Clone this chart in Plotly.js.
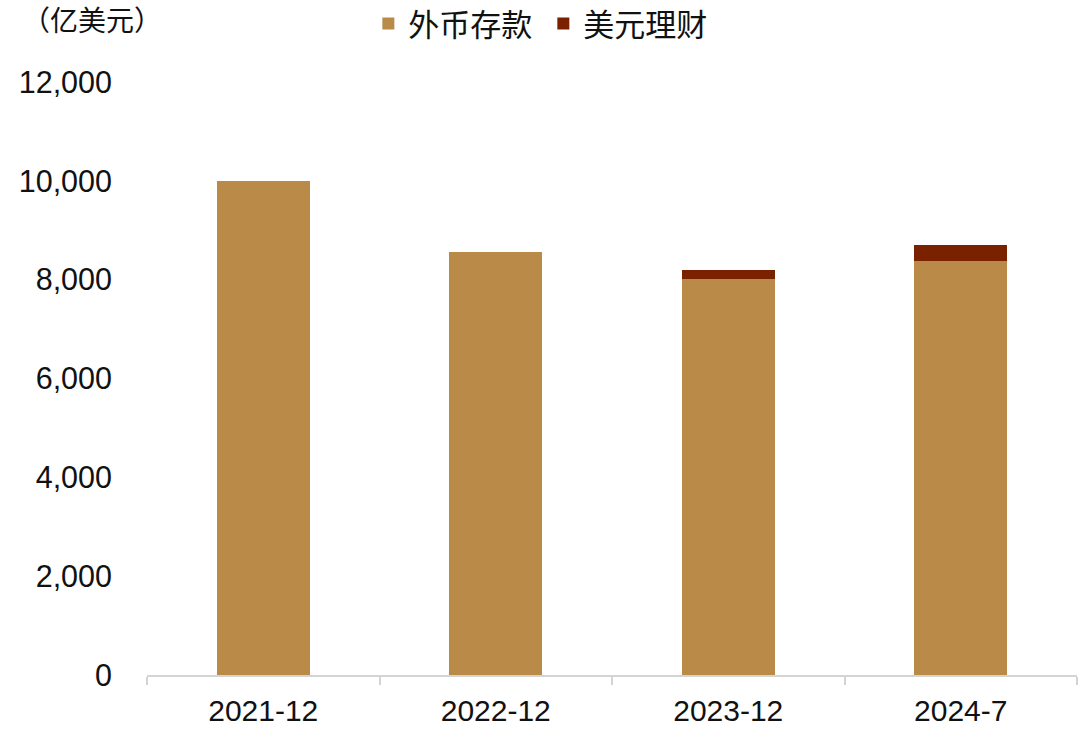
<!DOCTYPE html>
<html>
<head>
<meta charset="utf-8">
<script src="https://cdn.plot.ly/plotly-3.0.1.min.js"></script>
<style>
  html, body { margin: 0; padding: 0; background: #fff; }
  #chart { width: 1080px; height: 738px; }
</style>
</head>
<body>
<div id="chart"></div>
<script>
// 单位：亿美元
const periods = ['2021-12', '2022-12', '2023-12', '2024-7'];
const fxDeposits = [10000, 8560, 8010, 8380];   // 外币存款
const usdWealth = [0, 0, 190, 320];             // 美元理财

const latin = 'Liberation Sans, Arial, sans-serif';
const cjk = 'Noto Sans CJK SC, sans-serif';

const traces = [
  {
    type: 'bar',
    name: '外币存款',
    x: periods,
    y: fxDeposits,
    marker: { color: '#BA8B48' },
    hoverinfo: 'x+y+name',
  },
  {
    type: 'bar',
    name: '美元理财',
    x: periods,
    y: usdWealth,
    marker: { color: '#7A2100' },
    hoverinfo: 'x+y+name',
  },
];

const layout = {
  width: 1080,
  height: 738,
  margin: { l: 147, r: 3, t: 82, b: 63, pad: 0, autoexpand: false },
  paper_bgcolor: '#ffffff',
  plot_bgcolor: '#ffffff',
  barmode: 'stack',
  bargap: 0.6,
  showlegend: true,
  legend: {
    orientation: 'h',
    x: 0.238,
    xanchor: 'left',
    y: 1.098,
    yanchor: 'middle',
    entrywidth: 130,
    font: { family: cjk, size: 31, color: '#111' },
    traceorder: 'normal',
  },
  xaxis: {
    type: 'category',
    showline: true,
    linecolor: '#d4d4d4',
    linewidth: 2,
    ticks: 'outside',
    tickson: 'boundaries',
    ticklen: 8,
    tickwidth: 2,
    tickcolor: '#d4d4d4',
    showgrid: false,
    zeroline: false,
    tickfont: { family: latin, size: 30, color: '#111' },
    ticklabelstandoff: 8,
  },
  yaxis: {
    range: [0, 12000],
    dtick: 2000,
    tickformat: ',d',
    showgrid: false,
    zeroline: false,
    showline: false,
    ticks: '',
    tickfont: { family: latin, size: 30.5, color: '#111' },
    ticklabelstandoff: 34,
  },
  annotations: [
    {
      text: '（亿美元）',
      xref: 'paper', yref: 'paper',
      x: -0.137, xanchor: 'left',
      y: 1.106, yanchor: 'middle',
      showarrow: false,
      font: { family: cjk, size: 28, color: '#111' },
    },
  ],
};

Plotly.newPlot('chart', traces, layout, { displayModeBar: false, staticPlot: true });
</script>
</body>
</html>
